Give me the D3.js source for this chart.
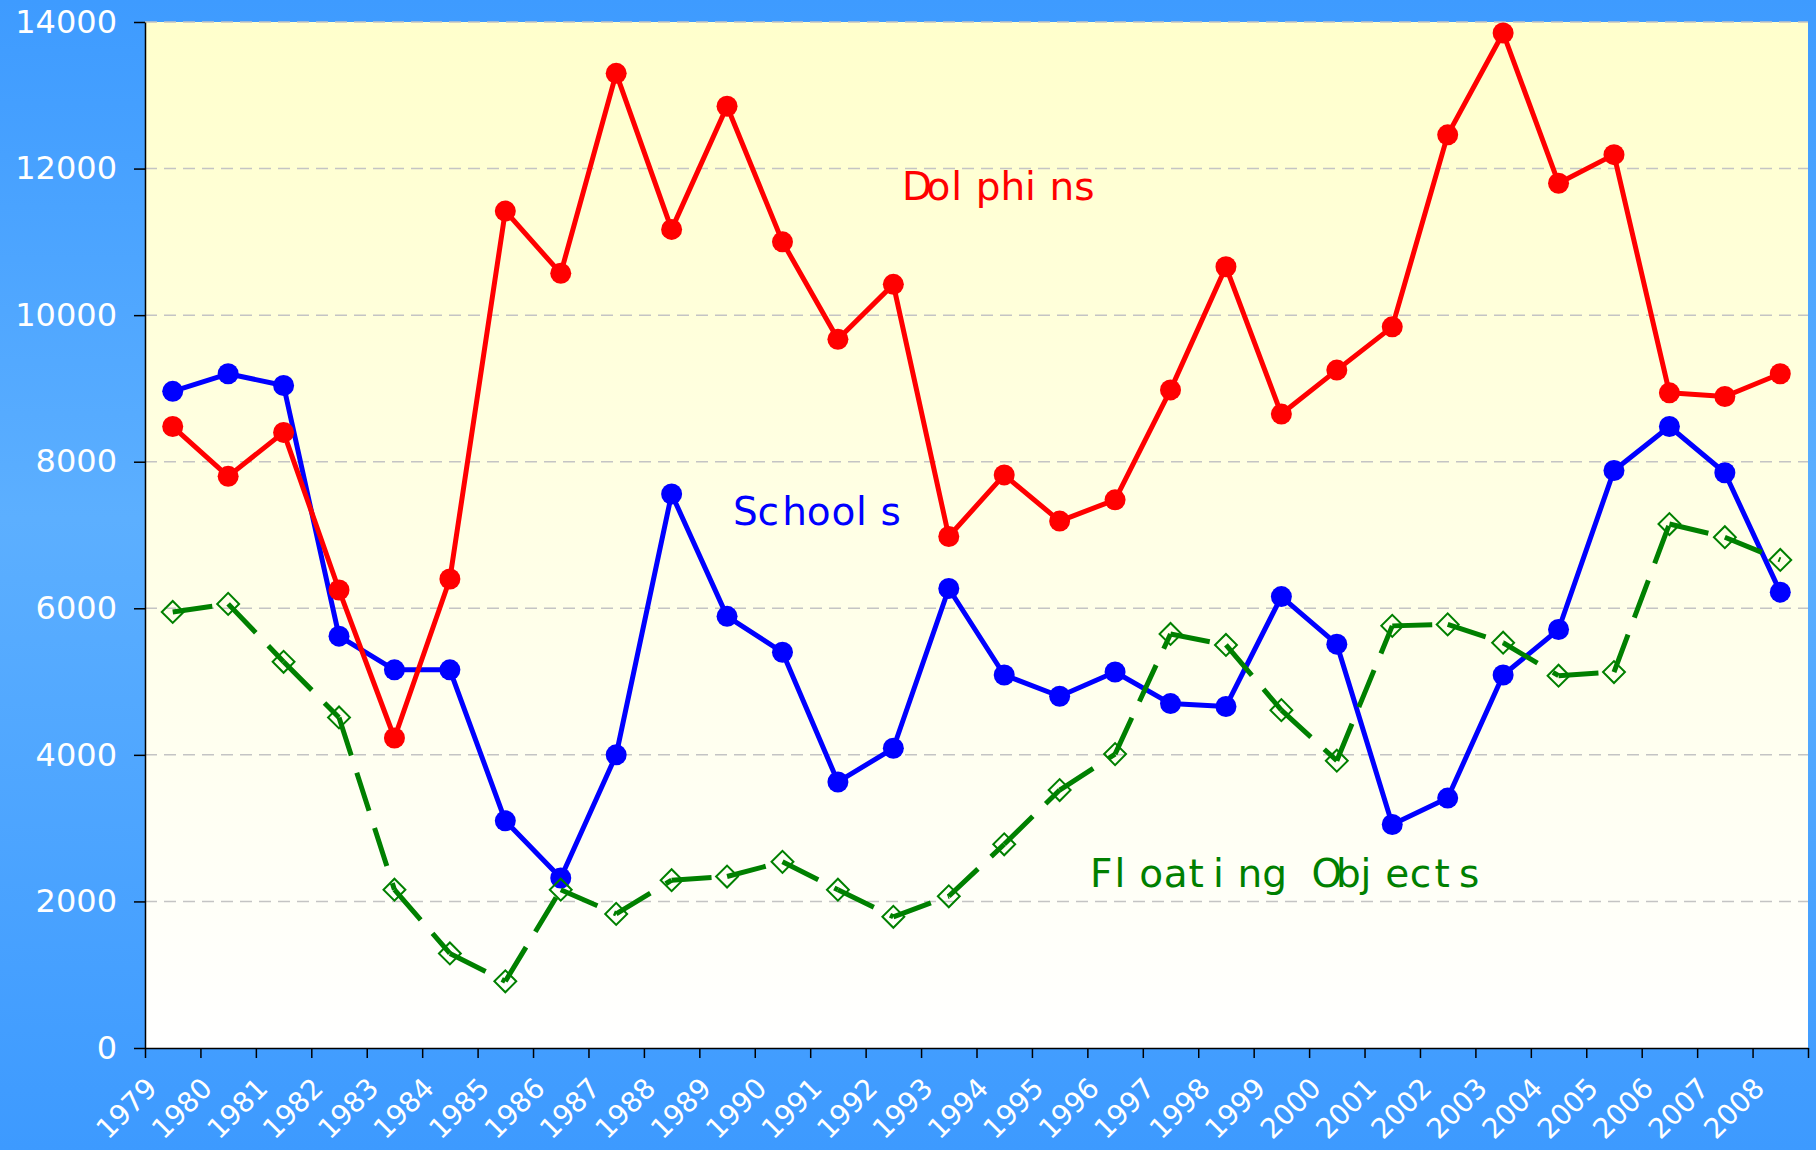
<!DOCTYPE html>
<html>
<head>
<meta charset="utf-8">
<script src="https://cdn.jsdelivr.net/npm/d3@7/dist/d3.min.js"></script>
<style>
  body { margin: 0; }
  svg { display: block; }
</style>
</head>
<body>
<div id="chart"></div>
<script>
const years = ['1979', '1980', '1981', '1982', '1983', '1984', '1985', '1986', '1987', '1988',
  '1989', '1990', '1991', '1992', '1993', '1994', '1995', '1996', '1997', '1998',
  '1999', '2000', '2001', '2002', '2003', '2004', '2005', '2006', '2007', '2008'];

const dolphins = [8480, 7800, 8400, 6250, 4230, 6400, 11420, 10570, 13300, 11170,
  12850, 11000, 9670, 10420, 6980, 7820, 7190, 7480, 8980, 10660,
  8650, 9250, 9840, 12460, 13850, 11800, 12190, 8940, 8890, 9200];

const schools = [8960, 9200, 9040, 5620, 5160, 5160, 3100, 2320, 4000, 7560,
  5890, 5400, 3630, 4090, 6270, 5090, 4800, 5130, 4700, 4660,
  6160, 5510, 3050, 3410, 5090, 5710, 7880, 8480, 7850, 6220];

const floating = [5950, 6060, 5270, 4510, 2160, 1290, 910, 2160, 1830, 2290,
  2340, 2540, 2160, 1790, 2070, 2780, 3520, 4010, 5650, 5500,
  4610, 3920, 5760, 5780, 5530, 5080, 5130, 7150, 6970, 6660];

const yTicks = [0, 2000, 4000, 6000, 8000, 10000, 12000, 14000];

const W = 1816, H = 1150;
const margin = { top: 22, right: 8, bottom: 102, left: 145 };

const svg = d3.select('#chart').append('svg')
  .attr('width', W)
  .attr('height', H);

const defs = svg.append('defs');

const bg = defs.append('linearGradient')
  .attr('id', 'bg').attr('x1', 0).attr('y1', 0).attr('x2', 0).attr('y2', 1);
bg.append('stop').attr('offset', '0%').attr('stop-color', '#3e9bff');
bg.append('stop').attr('offset', '45%').attr('stop-color', '#5cafff');
bg.append('stop').attr('offset', '100%').attr('stop-color', '#3d9aff');

const plotBg = defs.append('linearGradient')
  .attr('id', 'plotbg').attr('x1', 0).attr('y1', 0).attr('x2', 0).attr('y2', 1);
plotBg.append('stop').attr('offset', '0%').attr('stop-color', '#ffffcc');
plotBg.append('stop').attr('offset', '100%').attr('stop-color', '#ffffff');

svg.append('rect').attr('width', W).attr('height', H).attr('fill', 'url(#bg)');

const x = d3.scaleLinear()
  .domain([0, years.length])
  .range([margin.left, W - margin.right]);

const y = d3.scaleLinear()
  .domain([0, 14000])
  .range([H - margin.bottom, margin.top]);

svg.append('rect')
  .attr('x', x(0))
  .attr('y', y(14000))
  .attr('width', x(years.length) - x(0))
  .attr('height', y(0) - y(14000))
  .attr('fill', 'url(#plotbg)');

// dashed gridlines
svg.append('g')
  .selectAll('line')
  .data(yTicks.filter(d => d > 0))
  .join('line')
  .attr('x1', x(0))
  .attr('x2', x(years.length))
  .attr('y1', d => y(d))
  .attr('y2', d => y(d))
  .attr('stroke', '#c4c4c4')
  .attr('stroke-width', 1.5)
  .attr('stroke-dasharray', '12,7');

// y axis
const yAxis = svg.append('g')
  .attr('transform', `translate(${x(0)},0)`)
  .call(d3.axisLeft(y).tickValues(yTicks).tickSize(11).tickSizeOuter(0).tickPadding(17).tickFormat(d3.format('d')));
yAxis.select('.domain').attr('stroke', '#000').attr('stroke-width', 1.5);
yAxis.selectAll('.tick line').attr('stroke', '#000').attr('stroke-width', 1.5);
yAxis.selectAll('.tick text')
  .attr('fill', '#fff')
  .style('font', '32px "DejaVu Sans"');

// x axis: ticks on category boundaries, labels rotated
const xAxis = svg.append('g')
  .attr('transform', `translate(0,${y(0)})`)
  .call(d3.axisBottom(x).tickValues(d3.range(years.length + 1)).tickSize(10).tickSizeOuter(0)
    .tickFormat(i => years[i] || ''));
xAxis.select('.domain').attr('stroke', '#000').attr('stroke-width', 1.5);
xAxis.selectAll('.tick line').attr('stroke', '#000').attr('stroke-width', 1.5);
xAxis.selectAll('.tick text')
  .attr('fill', '#fff')
  .attr('text-anchor', 'end')
  .attr('y', null)
  .attr('dy', null)
  .attr('transform', 'translate(13,42) rotate(-45)')
  .style('font', '28px "DejaVu Sans"');

const px = i => x(i + 0.5);

const drawCircleSeries = (values, color) => {
  const line = d3.line().x((d, i) => px(i)).y(d => y(d));
  svg.append('path')
    .datum(values)
    .attr('d', line)
    .attr('fill', 'none')
    .attr('stroke', color)
    .attr('stroke-width', 5)
    .attr('stroke-linejoin', 'round');
  svg.append('g')
    .selectAll('circle')
    .data(values)
    .join('circle')
    .attr('cx', (d, i) => px(i))
    .attr('cy', d => y(d))
    .attr('r', 10.5)
    .attr('fill', color);
};

drawCircleSeries(schools, '#0000ff');
drawCircleSeries(dolphins, '#ff0000');

// floating objects: long dash restarting on every segment, hollow diamonds
const green = '#008000';
svg.append('g')
  .selectAll('line')
  .data(d3.pairs(floating.map((v, i) => [px(i), y(v)])))
  .join('line')
  .attr('x1', d => d[0][0])
  .attr('y1', d => d[0][1])
  .attr('x2', d => d[1][0])
  .attr('y2', d => d[1][1])
  .attr('stroke', green)
  .attr('stroke-width', 5)
  .attr('stroke-dasharray', '40,18');

svg.append('g')
  .selectAll('path')
  .data(floating)
  .join('path')
  .attr('d', d3.symbol(d3.symbolSquare, 240))
  .attr('transform', (d, i) => `translate(${px(i)},${y(d)}) rotate(45)`)
  .attr('fill', 'none')
  .attr('stroke', green)
  .attr('stroke-width', 2);

// series labels, laid out on a fixed character pitch
const seriesLabels = [
  { text: 'Dolphins', color: '#ff0000', x: 902, y: 200 },
  { text: 'Schools', color: '#0000ff', x: 733, y: 525 },
  { text: 'Floating Objects', color: green, x: 1090, y: 887 }
];
const pitch = 24.6;
svg.append('g')
  .selectAll('text')
  .data(seriesLabels)
  .join('text')
  .attr('x', d => Array.from(d.text).map((c, i) => (d.x + i * pitch).toFixed(1)).join(' '))
  .attr('y', d => d.y)
  .attr('text-anchor', 'start')
  .attr('fill', d => d.color)
  .style('font', '39px "DejaVu Sans"')
  .text(d => d.text);
</script>
</body>
</html>
